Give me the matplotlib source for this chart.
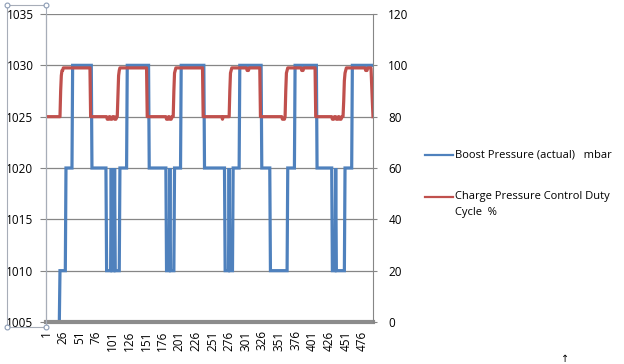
import numpy as np
import matplotlib
matplotlib.use("Agg")
import matplotlib.pyplot as plt
from matplotlib.lines import Line2D

plt.rcParams["font.family"] = ["Open Sans", "DejaVu Sans"]

N = 492
# sample numbers shown on the category axis
x_labels = list(range(1, N, 25))

# boost pressure (mbar): level held from each start sample until the next start
boost_starts = [1, 22, 31, 41, 70, 92, 99, 100, 104, 105, 112, 123, 156, 182, 187, 188,
                194, 204, 239, 270, 276, 277, 282, 292, 325, 338, 364, 375, 408, 431,
                436, 437, 450, 461]
boost_levels = [1005, 1010, 1020, 1030, 1020, 1010, 1020, 1010, 1020, 1010, 1020, 1030,
                1020, 1010, 1020, 1010, 1020, 1030, 1020, 1010, 1020, 1010, 1020, 1030,
                1020, 1010, 1020, 1030, 1020, 1010, 1020, 1010, 1020, 1030]

# charge pressure control duty cycle (%)
duty_starts = [1, 23, 24, 25, 27, 68, 93, 96, 98, 101, 104, 107, 109, 110, 111, 112, 153,
               182, 185, 187, 190, 193, 194, 195, 196, 237, 266, 267, 277, 278, 279, 280,
               303, 306, 323, 356, 360, 361, 362, 363, 364, 385, 388, 406, 431, 434, 437,
               440, 442, 445, 448, 449, 450, 451, 452, 481, 484, 490, 491, 492]
duty_levels = [80, 90, 96, 98, 99, 80, 79, 80, 79, 80, 79, 80, 88, 96, 98, 99, 80,
               79, 80, 79, 80, 90, 97, 98, 99, 80, 79, 80, 90, 97, 98, 99,
               98, 99, 80, 79, 80, 90, 97, 98, 99, 98, 99, 80, 79, 80, 79,
               80, 79, 80, 86, 94, 97, 98, 99, 98, 99, 92, 86, 80]


def expand(starts, levels):
    counts = np.diff(starts + [N + 1])
    return np.repeat(levels, counts)


x = np.arange(1, N + 1)
boost = expand(boost_starts, boost_levels)
duty = expand(duty_starts, duty_levels)

blue = "#4F81BD"
red = "#C0504D"
grey = "#868686"

W, H = 624, 364
fig = plt.figure(figsize=(W / 100, H / 100), dpi=100)
ax = fig.add_axes([46 / W, 1 - 322 / H, (373 - 46) / W, (322 - 14) / H])

ax.plot(x, boost, color=blue, lw=2.3, solid_joinstyle="miter")
ax.set_xlim(1, N)
ax.set_ylim(1005, 1035)
ax.set_yticks(range(1005, 1036, 5))
ax.set_xticks(x_labels)
ax.set_xticklabels([str(v) for v in x_labels], rotation=90, fontsize=8.5)
ax.yaxis.grid(True, color=grey, lw=0.9)
ax.set_axisbelow(True)
ax.tick_params(axis="y", length=4, color=grey, labelsize=8.5, pad=5)
ax.tick_params(axis="x", length=0, pad=6)
for s in ["top", "right"]:
    ax.spines[s].set_visible(False)
ax.spines["left"].set_color(grey)
ax.spines["bottom"].set_color("#8c8c8c")
ax.spines["bottom"].set_linewidth(3)
ax.spines["bottom"].set_zorder(5)

ax2 = ax.twinx()
ax2.plot(x, duty, color=red, lw=2.3)
ax2.set_ylim(0, 120)
ax2.set_yticks(range(0, 121, 20))
ax2.tick_params(axis="y", length=3, color=grey, labelsize=8.5, pad=8)
for s in ["top", "left", "bottom"]:
    ax2.spines[s].set_visible(False)
ax2.spines["right"].set_color(grey)


def fx(px):
    return px / W


def fy(py):
    return 1 - py / H


# legend drawn by hand, placed right of the plot
fig.add_artist(Line2D([fx(425), fx(453)], [fy(155), fy(155)], color=blue, lw=1.6))
fig.text(fx(455), fy(155), "Boost Pressure (actual)   mbar", fontsize=8, va="center")
fig.add_artist(Line2D([fx(425), fx(453)], [fy(197), fy(197)], color=red, lw=1.6))
fig.text(fx(455), fy(197), "Charge Pressure Control Duty", fontsize=8, va="center")
fig.text(fx(455), fy(212), "Cycle  %", fontsize=8, va="center")

# selection frame round the value axis
sel = "#a7adb8"
fig.add_artist(Line2D([fx(7), fx(46), fx(46), fx(7), fx(7)],
                      [fy(5), fy(5), fy(327), fy(327), fy(5)], color=sel, lw=0.8))
for cx, cy in [(7, 5), (46, 5), (7, 327), (46, 327)]:
    fig.add_artist(Line2D([fx(cx)], [fy(cy)], marker="o", ms=3.5, mfc="white",
                          mec="#8b9bb4", mew=0.8))

fig.text(fx(565), fy(359), "\u2191", fontsize=7, ha="center", va="center")

fig.savefig("out.png", dpi=100)
